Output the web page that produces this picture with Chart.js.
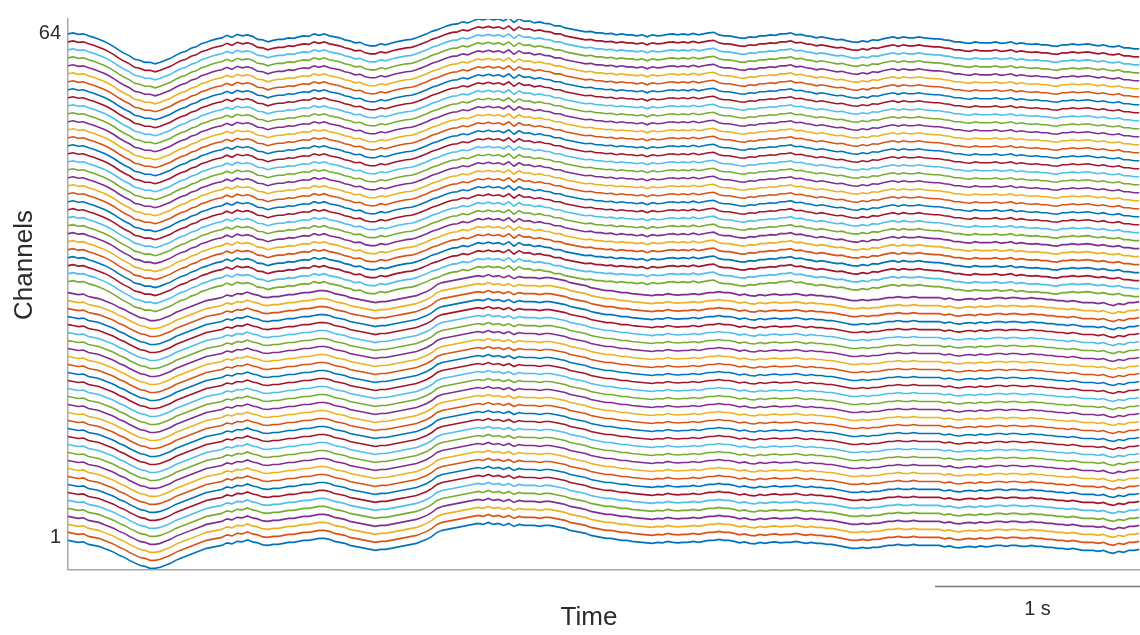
<!DOCTYPE html>
<html>
<head>
<meta charset="utf-8">
<script src="https://cdn.jsdelivr.net/npm/chart.js@4.4.0/dist/chart.umd.min.js"></script>
<style>
    html, body { margin: 0; padding: 0; background: #fff; }
    #wrap { width: 1140px; height: 635px; position: relative; }
</style>
</head>
<body>
<div id="wrap"><canvas id="eeg"></canvas></div>
<script>
// recording: 64 channels, 40 Hz samples, 5.23 s window
const SAMPLE_STEP_SEC = 0.025;
const WINDOW_SEC = 5.229;
const CHANNEL_COUNT = 64;
const CHANNEL_SPACING_UV = 80;
const SCALE_BAR_SEC = 1;
const channelTicks = [1, 64];

// MATLAB default line order, cycled from channel 1 upwards
const channelColors = ["#0072BD", "#D95319", "#EDB120", "#7E2F8E", "#77AC30", "#4DBEEE", "#A2142F"];

// averaged waveform of the upper electrode group (channels 33-64), µV
const upperGroupUv = [
    0, 10, -5, 0, -20, -35, -55, -75, -100, -130,
    -165, -195, -220, -255, -265, -285, -285, -300, -285, -265,
    -245, -215, -190, -175, -145, -130, -100, -85, -65, -50,
    -40, -15, -35, -5, -20, -10, -25, -55, -60, -80,
    -65, -55, -55, -40, -45, -30, -20, -25, 0, -15,
    0, -20, -30, -40, -60, -70, -90, -85, -110, -120,
    -120, -100, -110, -95, -80, -70, -60, -55, -40, -20,
    0, 25, 40, 60, 80, 95, 100, 120, 110, 130,
    150, 140, 155, 140, 150, 130, 160, 115, 150, 125,
    130, 110, 120, 105, 100, 80, 80, 60, 50, 40,
    30, 20, 25, 10, 10, 0, 5, -10, 0, -10,
    -10, -20, -10, -30, -10, -20, -15, -5, 0, -10,
    0, -10, 5, -10, 0, 10, 15, -10, -20, -20,
    -30, -40, -45, -30, -35, -20, -20, -10, -15, 0,
    0, 10, -10, -5, -20, -25, -40, -30, -40, -50,
    -60, -55, -70, -80, -85, -70, -80, -60, -65, -50,
    -40, -30, -45, -30, -40, -40, -30, -40, -45, -50,
    -50, -60, -65, -80, -80, -90, -95, -80, -90, -90,
    -90, -80, -95, -90, -80, -100, -90, -100, -105, -100,
    -110, -110, -120, -125, -110, -110, -100, -110, -105, -100,
    -110, -120, -110, -125, -130, -120, -140, -140, -150, -150,
];

// averaged waveform of the lower electrode group (channels 1-32), µV
const lowerGroupUv = [
    -30, -40, -50, -45, -70, -80, -90, -110, -130, -150,
    -180, -200, -230, -255, -280, -290, -310, -310, -300, -280,
    -260, -230, -210, -190, -170, -150, -130, -110, -100, -90,
    -80, -55, -65, -40, -45, -25, -45, -55, -75, -80,
    -70, -70, -60, -50, -50, -40, -30, -30, -20, -10,
    -10, -20, -40, -50, -60, -80, -90, -100, -110, -120,
    -130, -120, -120, -110, -100, -90, -80, -70, -60, -40,
    -20, 10, 50, 70, 80, 90, 100, 110, 120, 130,
    140, 130, 150, 130, 140, 120, 140, 110, 130, 120,
    120, 120, 110, 120, 120, 110, 100, 90, 70, 60,
    50, 40, 20, 10, 0, -10, -10, -20, -30, -30,
    -40, -45, -50, -55, -60, -50, -55, -40, -50, -55,
    -50, -50, -40, -50, -40, -30, -30, -20, -30, -30,
    -40, -55, -45, -60, -65, -50, -60, -50, -45, -55,
    -50, -50, -40, -50, -60, -50, -60, -60, -70, -70,
    -80, -90, -100, -110, -110, -100, -110, -100, -100, -90,
    -80, -80, -70, -80, -80, -70, -80, -80, -80, -80,
    -80, -95, -85, -100, -105, -95, -90, -100, -85, -95,
    -90, -80, -80, -90, -80, -80, -90, -90, -80, -90,
    -90, -100, -100, -110, -110, -120, -110, -120, -130, -130,
    -130, -140, -130, -150, -160, -140, -150, -130, -130, -120,
];

const TEXT_COLOR = "#2b2b2b";
const AXIS_COLOR = "#a8a8a8";
const FONT_FAMILY = "Liberation Sans, Arial, Helvetica, sans-serif";

function buildChannelTrace(channel) {
    const source = channel <= 32 ? lowerGroupUv : upperGroupUv;
    return source.map((uv, i) => ({
        x: i * SAMPLE_STEP_SEC,
        y: channel + uv / CHANNEL_SPACING_UV,
    }));
}

function buildDatasets() {
    const datasets = [];
    for (let channel = 1; channel <= CHANNEL_COUNT; channel++) {
        datasets.push({
            label: `Ch ${channel}`,
            data: buildChannelTrace(channel),
            borderColor: channelColors[(channel - 1) % channelColors.length],
            borderWidth: 1.6,
            pointRadius: 0,
            tension: 0,
        });
    }
    return datasets;
}

// axis titles and the time scale bar under the plot
const eegLabelsPlugin = {
    id: "eegLabels",
    afterDraw(chart) {
        const { ctx, chartArea, scales } = chart;
        const barLeft = scales.x.getPixelForValue(WINDOW_SEC - SCALE_BAR_SEC);
        const barRight = scales.x.getPixelForValue(WINDOW_SEC);
        const barY = chartArea.bottom + 17;

        ctx.save();
        ctx.strokeStyle = "#7a7a7a";
        ctx.lineWidth = 1.5;
        ctx.beginPath();
        ctx.moveTo(barLeft, barY);
        ctx.lineTo(barRight, barY);
        ctx.stroke();

        ctx.fillStyle = TEXT_COLOR;
        ctx.textAlign = "center";
        ctx.textBaseline = "middle";
        ctx.font = `20px ${FONT_FAMILY}`;
        ctx.fillText(`${SCALE_BAR_SEC} s`, (barLeft + barRight) / 2, barY + 23);

        ctx.font = `26px ${FONT_FAMILY}`;
        ctx.fillText("Time", 589, 618);

        ctx.translate(25, 265);
        ctx.rotate(-Math.PI / 2);
        ctx.fillText("Channels", 0, 0);
        ctx.restore();
    },
};

new Chart(document.getElementById("eeg"), {
    type: "line",
    data: { datasets: buildDatasets() },
    options: {
        responsive: true,
        maintainAspectRatio: false,
        animation: false,
        events: [],
        layout: { padding: { top: 13, right: 0, bottom: 0, left: 0 } },
        plugins: {
            legend: { display: false },
            tooltip: { enabled: false },
        },
        scales: {
            x: {
                type: "linear",
                min: 0,
                max: WINDOW_SEC,
                grid: { display: false, drawTicks: false },
                border: { display: true, color: AXIS_COLOR, width: 1.5 },
                ticks: { display: false },
                afterFit: (scale) => { scale.height = 65.5; },
            },
            y: {
                type: "linear",
                min: -3.02,
                max: 65.86,
                grid: { display: false, drawTicks: false },
                border: { display: true, color: AXIS_COLOR, width: 1.5 },
                afterBuildTicks: (scale) => {
                    scale.ticks = channelTicks.map((value) => ({ value }));
                },
                ticks: {
                    padding: 7,
                    color: TEXT_COLOR,
                    font: { family: FONT_FAMILY, size: 20 },
                    callback: (value) => value,
                },
                afterFit: (scale) => { scale.width = 68; },
            },
        },
    },
    plugins: [eegLabelsPlugin],
});
</script>
</body>
</html>
